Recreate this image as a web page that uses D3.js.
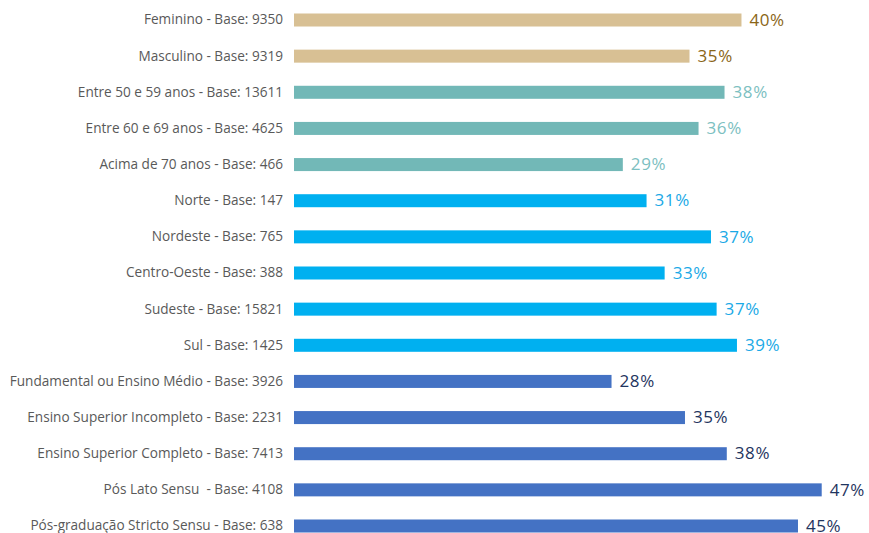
<!DOCTYPE html>
<html>
<head>
<meta charset="utf-8">
<style>
    body { margin: 0; background: #fff; }
    svg { display: block; }
</style>
</head>
<body>
<script src="https://d3js.org/d3.v7.min.js"></script>
<script>
// categories (row labels), top to bottom
const categories = [
    "Feminino - Base: 9350",
    "Masculino - Base: 9319",
    "Entre 50 e 59 anos - Base: 13611",
    "Entre 60 e 69 anos - Base: 4625",
    "Acima de 70 anos - Base: 466",
    "Norte - Base: 147",
    "Nordeste - Base: 765",
    "Centro-Oeste - Base: 388",
    "Sudeste - Base: 15821",
    "Sul - Base: 1425",
    "Fundamental ou Ensino Médio - Base: 3926",
    "Ensino Superior Incompleto - Base: 2231",
    "Ensino Superior Completo - Base: 7413",
    "Pós Lato Sensu  - Base: 4108",
    "Pós-graduação Stricto Sensu - Base: 638"
];
// values in percent
const values = [39.6, 35.0, 38.1, 35.8, 29.1, 31.2, 36.9, 32.8, 37.4, 39.2, 28.1, 34.6, 38.3, 46.7, 44.6];
// group of each row
const groups = ["sexo", "sexo", "idade", "idade", "idade",
    "regiao", "regiao", "regiao", "regiao", "regiao",
    "escol", "escol", "escol", "escol", "escol"];

const barColor = d3.scaleOrdinal()
    .domain(["sexo", "idade", "regiao", "escol"])
    .range(["#d8c094", "#72b8b7", "#00b0f0", "#4472c4"]);
const textColor = d3.scaleOrdinal()
    .domain(["sexo", "idade", "regiao", "escol"])
    .range(["#8a6516", "#7cc0c1", "#1aa9e6", "#1f3560"]);

const width = 869, height = 533;
const left = 294;

const svg = d3.select("body").append("svg")
    .attr("width", width)
    .attr("height", height)
    .style("font-family", "'Open Sans', sans-serif");

const data = categories.map((c, i) => ({cat: c, value: values[i], group: groups[i]}));

const x = d3.scaleLinear()
    .domain([0, 50])
    .range([left, left + 565]);

const y = d3.scaleBand()
    .domain(categories)
    .range([1.93, 544.07])
    .paddingInner(0.64)
    .paddingOuter(0.32);

// bars
svg.selectAll("rect.bar")
    .data(data)
    .enter()
    .append("rect")
        .attr("class", "bar")
        .attr("x", x(0))
        .attr("y", d => y(d.cat))
        .attr("width", d => x(d.value) - x(0))
        .attr("height", y.bandwidth())
        .style("fill", d => barColor(d.group));

// category labels
const yAxis = svg.append("g")
    .attr("transform", "translate(" + (left - 11) + ",0)")
    .call(d3.axisLeft(y).tickSize(0).tickPadding(0));
yAxis.select(".domain").remove();
yAxis.selectAll("text")
    .attr("fill", "#595959")
    .style("white-space", "pre")
    .style("font-size", "13.6px")
    .style("font-family", "'Open Sans', sans-serif");

// value labels
svg.selectAll("text.val")
    .data(data)
    .enter()
    .append("text")
        .attr("class", "val")
        .attr("x", d => x(d.value) + 8)
        .attr("y", d => y(d.cat) + y.bandwidth() / 2)
        .attr("dy", "0.34em")
        .attr("fill", d => textColor(d.group))
        .style("font-size", "17px")
        .style("letter-spacing", "0.6px")
        .style("font-weight", 500)
        .text(d => Math.round(d.value) + "%");
</script>
</body>
</html>
